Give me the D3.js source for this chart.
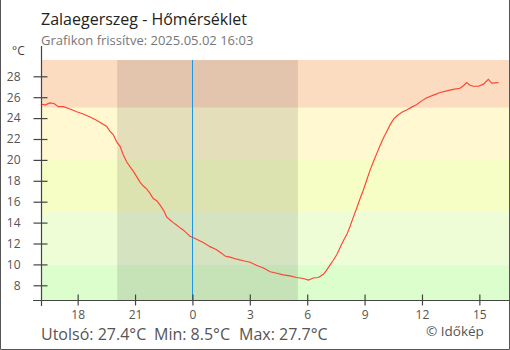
<!DOCTYPE html>
<html><head><meta charset="utf-8">
<script src="https://cdn.jsdelivr.net/npm/d3@7"></script>
<style>
html,body{margin:0;padding:0;background:#fff;}
svg{display:block;font-family:"Open Sans",sans-serif;}
</style></head>
<body><svg id="c" width="510" height="350"></svg>
<script>
const title = "Zalaegerszeg - Hőmérséklet";
const subtitle = "Grafikon frissítve: 2025.05.02 16:03";
const statsLabels = ["Utolsó: 27.4°C", "Min: 8.5°C", "Max: 27.7°C"];
const credit = "© Időkép";
const unitLabel = "°C";

const times = ["05-01 16:05","05-01 16:17","05-01 16:33","05-01 16:46","05-01 16:59","05-01 17:15","05-01 17:36","05-01 17:57","05-01 18:17","05-01 18:39","05-01 18:59","05-01 19:15","05-01 19:31","05-01 19:41","05-01 19:52","05-01 20:02","05-01 20:13","05-01 20:23","05-01 20:34","05-01 20:44","05-01 20:55","05-01 21:05","05-01 21:16","05-01 21:26","05-01 21:37","05-01 21:47","05-01 21:57","05-01 22:08","05-01 22:18","05-01 22:29","05-01 22:39","05-01 22:50","05-01 23:00","05-01 23:11","05-01 23:21","05-01 23:31","05-01 23:42","05-01 23:52","05-02 00:00","05-02 00:13","05-02 00:34","05-02 00:55","05-02 01:16","05-02 01:32","05-02 01:42","05-02 01:58","05-02 02:19","05-02 02:40","05-02 03:01","05-02 03:22","05-02 03:43","05-02 04:04","05-02 04:25","05-02 04:45","05-02 05:06","05-02 05:27","05-02 05:48","05-02 06:04","05-02 06:19","05-02 06:35","05-02 06:51","05-02 07:01","05-02 07:12","05-02 07:22","05-02 07:33","05-02 07:43","05-02 07:53","05-02 08:04","05-02 08:14","05-02 08:25","05-02 08:35","05-02 08:46","05-02 08:56","05-02 09:07","05-02 09:17","05-02 09:28","05-02 09:38","05-02 09:49","05-02 09:59","05-02 10:10","05-02 10:20","05-02 10:31","05-02 10:41","05-02 10:57","05-02 11:13","05-02 11:28","05-02 11:44","05-02 11:59","05-02 12:15","05-02 12:36","05-02 12:57","05-02 13:18","05-02 13:38","05-02 13:59","05-02 14:10","05-02 14:20","05-02 14:31","05-02 14:41","05-02 14:57","05-02 15:13","05-02 15:28","05-02 15:39","05-02 16:00"];
const temps = [25.35,25.25,25.45,25.4,25.1,25.1,24.87,24.6,24.4,24.1,23.8,23.5,23.2,22.75,22.4,21.75,21.3,20.5,19.8,19.35,18.9,18.4,17.85,17.5,17.2,16.8,16.3,16.1,15.7,15.2,14.55,14.25,14.0,13.75,13.5,13.3,13.0,12.7,12.6,12.4,12.1,11.7,11.4,11.05,10.8,10.7,10.5,10.35,10.2,9.9,9.65,9.3,9.15,9.0,8.9,8.75,8.65,8.5,8.7,8.75,9.05,9.45,9.95,10.4,10.95,11.6,12.25,12.85,13.6,14.55,15.35,16.3,17.1,18.1,19.0,19.85,20.6,21.4,22.1,22.75,23.35,23.9,24.2,24.55,24.8,25.05,25.3,25.65,25.95,26.2,26.45,26.6,26.75,26.85,27.1,27.4,27.15,27.05,27.05,27.25,27.7,27.35,27.4];

const yTicks = [8,10,12,14,16,18,20,22,24,26,28];
const xTickHours = [18,21,0,3,6,9,12,15];
const xDomain = ["05-01 16:05","05-02 16:33"];
const night = ["05-01 20:04","05-02 05:31"];
const nowLine = "05-02 00:00";
const bandEdges = [10,15,20,25];
const bandColors = ["#dcfdcc","#effdd6","#f6fdc5","#fff8d0","#fcdcc0"];

const parse = d3.timeParse("%Y-%m-%d %H:%M");
const P = s => parse("2025-" + s);

const svg = d3.select("#c");
const L = 41, R = 509, T = 60, B = 300;

const x = d3.scaleTime().domain(xDomain.map(P)).range([L, R]);
const y = d3.scaleLinear().domain([8, 28]).range([285.3, 76.3]);
const yTop = y.invert(T), yBot = y.invert(B);

// bands
const edges = [yBot, ...bandEdges, yTop];
svg.append("g").selectAll("rect").data(bandColors).join("rect")
  .attr("x", L).attr("width", R - L)
  .attr("y", (d,i) => y(edges[i+1]))
  .attr("height", (d,i) => y(edges[i]) - y(edges[i+1]))
  .attr("fill", d => d);

// night shading
svg.append("rect")
  .attr("x", x(P(night[0]))).attr("width", x(P(night[1])) - x(P(night[0])))
  .attr("y", T).attr("height", B - T)
  .attr("fill", "#000").attr("fill-opacity", 0.1);

// midnight line
svg.append("line")
  .attr("x1", Math.round(x(P(nowLine))) + 0.5).attr("x2", Math.round(x(P(nowLine))) + 0.5)
  .attr("y1", T).attr("y2", B)
  .attr("stroke", "#1e96e6").attr("stroke-width", 1);

// line
const data = times.map((t,i) => ({t: P(t), v: temps[i]}));
svg.append("path").datum(data)
  .attr("fill", "none").attr("stroke", "#ff4433").attr("stroke-width", 1.15)
  .attr("d", d3.line().x(d => x(d.t)).y(d => y(d.v)));

// axes
const axisColor = "#444";
const yAxis = svg.append("g").attr("transform", `translate(${L + 0.5},0)`)
  .call(d3.axisLeft(y).tickValues(yTicks).tickSize(8).tickPadding(13).tickSizeOuter(0));
yAxis.select(".domain").remove();
yAxis.selectAll(".tick line").attr("x2", -8).attr("x1", 6).attr("stroke", axisColor).attr("stroke-width", 1.2);
yAxis.selectAll(".tick text").attr("fill", "#555").style("font-size", "12px").style("font-family", "Open Sans");
svg.append("line").attr("x1", L + 0.5).attr("x2", L + 0.5).attr("y1", 46).attr("y2", 306)
  .attr("stroke", axisColor).attr("stroke-width", 1.2);

const xTickDates = xTickHours.map(h => {
  const d = h >= 16 ? "05-01" : "05-02";
  return P(d + " " + String(h).padStart(2,"0") + ":00");
});
const xAxis = svg.append("g").attr("transform", `translate(0,${B + 0.5})`)
  .call(d3.axisBottom(x).tickValues(xTickDates).tickFormat(d => String(d.getHours())).tickSize(6).tickPadding(4).tickSizeOuter(0));
xAxis.select(".domain").remove();
xAxis.selectAll(".tick line").attr("y1", -6).attr("y2", 5).attr("stroke", axisColor).attr("stroke-width", 1.2);
xAxis.selectAll(".tick text").attr("fill", "#555").style("font-size", "12px").style("font-family", "Open Sans");
svg.append("line").attr("x1", 33).attr("x2", R).attr("y1", B + 0.5).attr("y2", B + 0.5)
  .attr("stroke", axisColor).attr("stroke-width", 1.2);

// texts
svg.append("text").attr("x", 41).attr("y", 25).text(title)
  .attr("fill", "#222").style("font-size", "16px");
svg.append("text").attr("x", 41).attr("y", 45).text(subtitle)
  .attr("fill", "#777").style("font-size", "13px");
svg.append("text").attr("x", 12).attr("y", 55).text(unitLabel)
  .attr("fill", "#444").style("font-size", "12px");
svg.append("g").selectAll("text").data(statsLabels).join("text")
  .attr("x", (d,i) => [41, 154, 239][i]).attr("y", 339.5)
  .text(d => d).attr("fill", "#555").style("font-size", "16px");
svg.append("text").attr("x", 426).attr("y", 336).text(credit)
  .attr("fill", "#555").style("font-size", "13.5px");

// frame
svg.append("path").attr("d", `M0.5,0 V349.5 H509.5 V0`).attr("fill", "none")
  .attr("stroke", "#555").attr("stroke-width", 1);
</script></body></html>
